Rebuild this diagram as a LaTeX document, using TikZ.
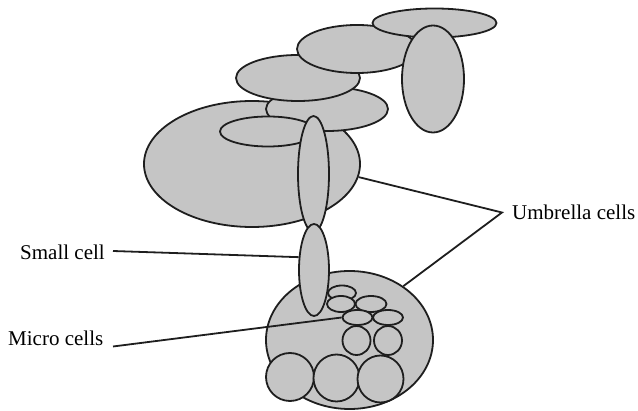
\documentclass[tikz,border=0pt]{standalone}
\usepackage{fontspec}
\setmainfont{Liberation Serif}
\usetikzlibrary{shapes.geometric}
\definecolor{cellfill}{RGB}{197,197,197}
\definecolor{cellline}{RGB}{30,30,30}
\tikzset{
  cell/.style={ellipse, draw=cellline, fill=cellfill, line width=1.8pt, inner sep=0pt},
  lbl/.style={font=\fontsize{21}{25}\selectfont, inner sep=0pt, anchor=base west},
  lead/.style={draw=cellline, line width=1.8pt, line join=miter}
}
\newcommand{\cellat}[5]{\node[cell, minimum width=#4pt, minimum height=#5pt] (#1) at (#2,#3) {};}
\begin{document}
\begin{tikzpicture}[x=1pt,y=-1pt]
\useasboundingbox (0,0) rectangle (638,411);
% umbrella chain
\cellat{E6}{252}{164}{216}{126}
\cellat{E5}{327}{109}{122}{44}
\cellat{E4}{298}{78}{124}{46}
\cellat{E2}{357}{49}{120}{48}
\cellat{E1}{434.5}{23}{124}{29}
\cellat{E3}{433}{79}{62}{107}
\cellat{E7}{268}{131.5}{96}{30}
\cellat{E8}{313.5}{174}{31}{116}
% lower umbrella and small cell
\cellat{E10}{349.5}{340}{167}{138}
\cellat{E9}{314}{270}{30}{92}
% micro cells
\cellat{m1}{342}{293}{28}{15}
\cellat{m2}{341}{304}{28}{16}
\cellat{m3}{371}{304}{31}{16}
\cellat{m4}{357.5}{317.5}{30}{15}
\cellat{m5}{388}{317.5}{30}{15}
\cellat{c1}{356.5}{340.5}{28}{29}
\cellat{c2}{388}{340.5}{28}{29}
\cellat{B1}{290}{377}{48}{48}
\cellat{B2}{336.5}{378}{46}{47}
\cellat{B3}{380.5}{379}{46}{47}
% labels
\node[lbl] (tU) at (512,220) {Umbrella cells};
\node[lbl] (tS) at (20,260) {Small cell};
\node[lbl] (tM) at (8,346) {Micro cells};
\coordinate (uj) at (502,212.5);
\coordinate (sj) at (113,251);
\coordinate (mj) at (113,346.5);
% leaders
\draw[lead] (E6.-7.6) -- (uj) -- (E10.45);
\draw[lead] (sj) -- (E9.140);
\draw[lead] (mj) -- (m4.west);
\end{tikzpicture}
\end{document}
